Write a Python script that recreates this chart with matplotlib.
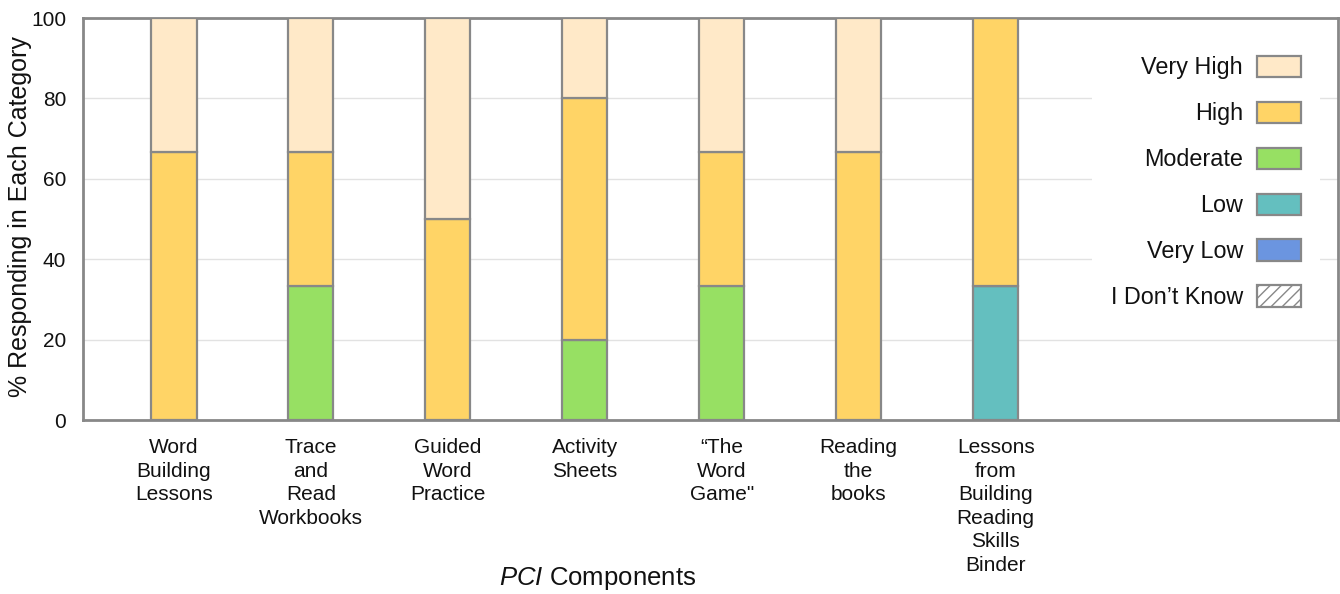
import matplotlib
matplotlib.use("Agg")
import matplotlib.pyplot as plt
import numpy as np
from matplotlib.patches import Patch

plt.rcParams["font.family"] = ["Liberation Sans", "DejaVu Sans"]
plt.rcParams["mathtext.fontset"] = "custom"
plt.rcParams["mathtext.it"] = "Liberation Sans:italic"
plt.rcParams["mathtext.rm"] = "Liberation Sans"
plt.rcParams["hatch.linewidth"] = 1.0

# 组件名称（换行即轴上分行）
components = [
    "Word\nBuilding\nLessons",
    "Trace\nand\nRead\nWorkbooks",
    "Guided\nWord\nPractice",
    "Activity\nSheets",
    "\u201cThe\nWord\nGame\"",
    "Reading\nthe\nbooks",
    "Lessons\nfrom\nBuilding\nReading\nSkills\nBinder",
]

# 各等级百分比（自下而上堆叠）
dont_know = [0, 0, 0, 0, 0, 0, 0]
very_low = [0, 0, 0, 0, 0, 0, 0]
low = [0, 0, 0, 0, 0, 0, 33.3]
moderate = [0, 33.3, 0, 20, 33.3, 0, 0]
high = [66.7, 33.3, 50, 60, 33.3, 66.7, 66.7]
very_high = [33.3, 33.3, 50, 20, 33.3, 33.3, 0]

levels = ["I Don\u2019t Know", "Very Low", "Low", "Moderate", "High", "Very High"]
series = [dont_know, very_low, low, moderate, high, very_high]
colors = ["white", "#6b95e0", "#64bfbf", "#97e063", "#ffd466", "#ffe9c8"]
hatches = ["///", None, None, None, None, None]

edge = "#888888"
txt = "#111111"

fig = plt.figure(figsize=(13.4, 5.94), dpi=100)
ax = fig.add_axes([83 / 1340, 174 / 594, 1255 / 1340, 402 / 594])

x = np.arange(len(components))
bottom = np.zeros(len(components))
for vals, c, h in zip(series, colors, hatches):
    vals = np.array(vals, dtype=float)
    ax.bar(x, vals, bottom=bottom, width=0.33, color=c, edgecolor=edge,
           linewidth=1.6, hatch=h, zorder=3)
    bottom += vals

ax.set_xlim(-0.664, 8.50)
ax.set_ylim(0, 100)
ax.set_yticks([0, 20, 40, 60, 80, 100])
ax.set_xticks(x)
ax.set_xticklabels(components, fontsize=15, color=txt, linespacing=1.3)
ax.tick_params(axis="both", length=0, labelsize=15, labelcolor=txt)
ax.tick_params(axis="x", labelsize=15, pad=13)
ax.tick_params(axis="y", pad=12)
ax.grid(axis="y", color="#e2e2e2", linewidth=1, zorder=0)
ax.set_axisbelow(True)
for s in ax.spines.values():
    s.set_color(edge)
    s.set_linewidth(2)

# 轴标题直接放在画布坐标上
fig.text(20 / 1340, 1 - 217 / 594, "% Responding in Each Category", fontsize=18,
         color=txt, rotation=90, ha="center", va="center")
fig.text(598 / 1340, 16 / 594, r"$\it{PCI}$ Components", fontsize=18.5, color=txt,
         ha="center", va="center")

# 图例：文字在左，色块在右，从上到下为 Very High → I Don't Know
handles = [Patch(facecolor=c, edgecolor=edge, hatch=h, linewidth=1.6)
           for c, h in zip(colors, hatches)][::-1]
leg = ax.legend(handles, levels[::-1], loc="upper right",
                bbox_to_anchor=(1320 / 1340, 557 / 594),
                bbox_transform=fig.transFigure, markerfirst=False,
                fontsize=16.8, frameon=True, framealpha=1, facecolor="white",
                edgecolor="none", fancybox=False, handlelength=1.9,
                handleheight=1.05, labelspacing=0.95, handletextpad=0.6,
                borderpad=0.8, borderaxespad=0)
for t in leg.get_texts():
    t.set_color(txt)
leg.set_zorder(2)

fig.savefig("out.png", dpi=100)
